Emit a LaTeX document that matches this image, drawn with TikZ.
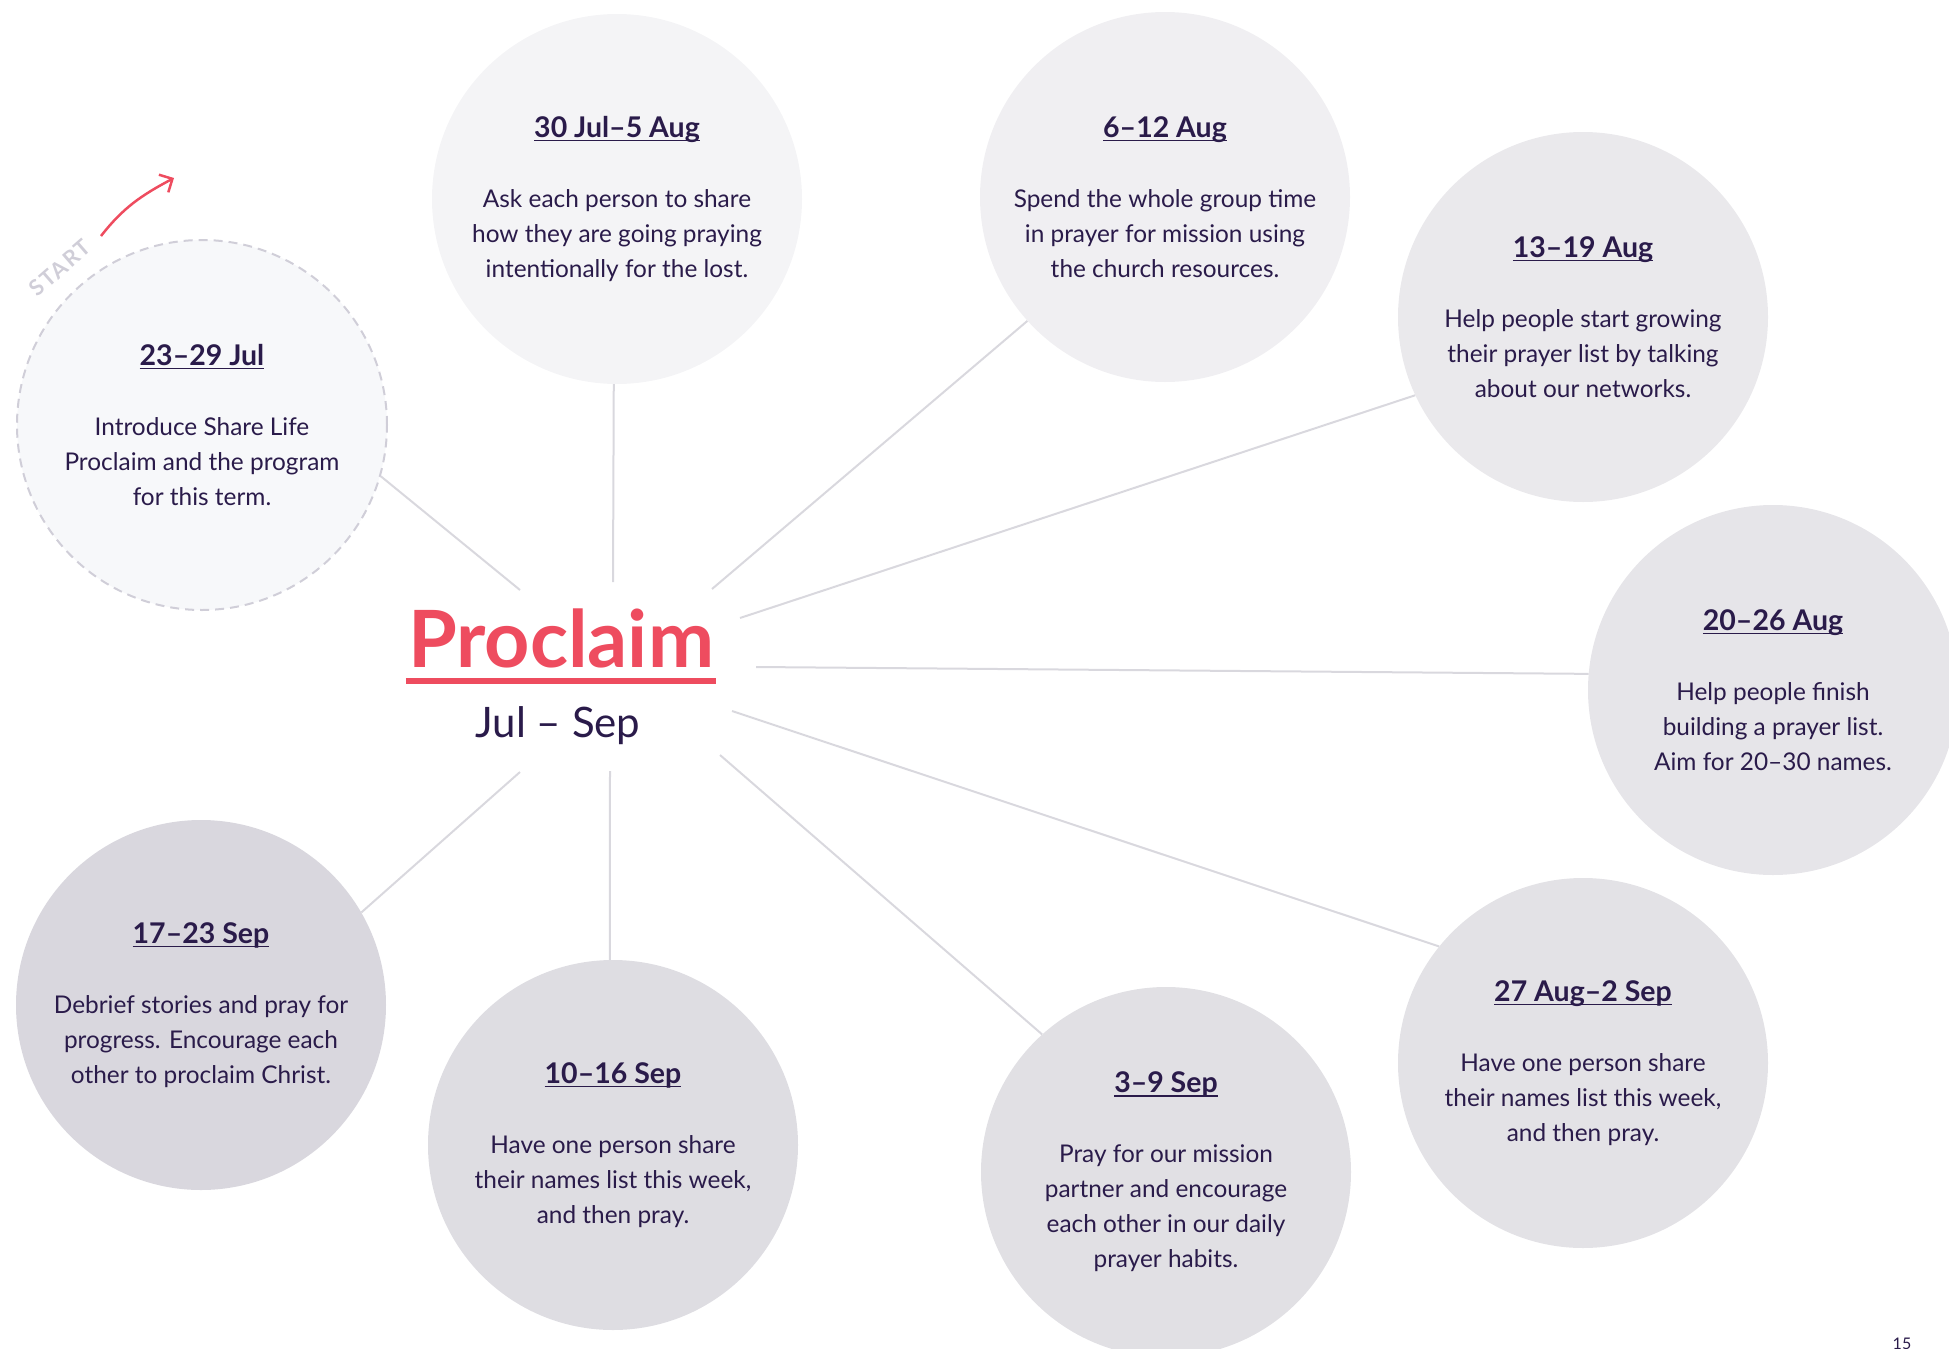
\documentclass[tikz,border=0pt]{standalone}
\usepackage{fontspec}
\setmainfont{Lato}
\usetikzlibrary{arrows.meta}
\definecolor{ink}{HTML}{2A1B4A}
\definecolor{redc}{HTML}{EE4C5F}
\definecolor{linec}{HTML}{D9D8DE}
\definecolor{startc}{HTML}{D0CED8}
\definecolor{fA}{HTML}{F7F8FA}
\definecolor{fB}{HTML}{F4F4F6}
\definecolor{fC}{HTML}{F0EFF2}
\definecolor{fD}{HTML}{EAE9EC}
\definecolor{fE}{HTML}{E6E5E9}
\definecolor{fF}{HTML}{E3E2E6}
\definecolor{fG}{HTML}{E1E0E4}
\definecolor{fH}{HTML}{DEDDE2}
\definecolor{fI}{HTML}{D9D7DE}
\newcommand\hul[1]{\setbox0\hbox{#1}\rlap{\rule[-4pt]{\wd0}{1.8pt}}\box0}
\newcommand\hd[1]{{\fontsize{28.5}{34}\selectfont\bfseries\hul{#1}}\\[35pt]}
\begin{document}
\begin{tikzpicture}[x=1pt,y=1pt,
  stage/.style={circle, minimum size=370pt, inner sep=0pt, align=center, text=ink,
    font=\fontsize{24.4}{35}\selectfont},
  link/.style={draw=linec, line width=2pt}]
\clip (0,0) rectangle (1949,-1349);
\useasboundingbox (0,0) rectangle (1949,-1349);

\node[stage, fill=fA, draw=startc, line width=2pt, dash pattern=on 9pt off 6pt] (c1) at (202,-425)
  {\hd{23–29 Jul}Introduce Share Life\\Proclaim and the program\\for this term.};
\node[stage, fill=fB] (c2) at (617,-199)
  {\hd{30 Jul–5 Aug}Ask each person to share\\how they are going praying\\intentionally for the lost.};
\node[stage, fill=fC] (c3) at (1165,-197)
  {\hd{6–12 Aug}Spend the whole group time\\in prayer for mission using\\the church resources.};
\node[stage, fill=fD] (c4) at (1583,-317)
  {\hd{13–19 Aug}Help people start growing\\their prayer list by talking\\about our networks.};
\node[stage, fill=fE] (c5) at (1773,-690)
  {\hd{20–26 Aug}Help people finish\\building a prayer list.\\Aim for 20–30 names.};
\node[stage, fill=fF] (c6) at (1583,-1063)
  {\hd{27 Aug–2 Sep}Have one person share\\their names list this week,\\and then pray.};
\node[stage, fill=fG] (c7) at (1166,-1172)
  {\hd{3–9 Sep}Pray for our mission\\partner and encourage\\each other in our daily\\prayer habits.};
\node[stage, fill=fH] (c8) at (613,-1145)
  {\hd{10–16 Sep}Have one person share\\their names list this week,\\and then pray.};
\node[stage, fill=fI] (c9) at (201,-1005)
  {\hd{17–23 Sep}Debrief stories and pray for\\progress. Encourage each\\other to proclaim Christ.};

\coordinate (a1) at (520,-590);
\coordinate (a2) at (613,-582);
\coordinate (a3) at (712,-589);
\coordinate (a4) at (740,-618);
\coordinate (a5) at (756,-667);
\coordinate (a6) at (732,-711);
\coordinate (a7) at (720,-755);
\coordinate (a8) at (610,-771);
\coordinate (a9) at (520,-772);

\draw[link] (a1) -- (c1.-16);
\draw[link] (a2) -- (c2.-91);
\draw[link] (a3) -- (c3.222);
\draw[link] (a4) -- (c4.205);
\draw[link] (a5) -- (c5.175);
\draw[link] (a6) -- (c6.141.5);
\draw[link] (a7) -- (c7.132);
\draw[link] (a8) -- (c8.91);
\draw[link] (a9) -- (c9.30);

\node[anchor=base, inner sep=0pt, text=redc, font=\fontsize{79}{84}\selectfont\bfseries] (title) at (561,-667) {Proclaim};
\draw[redc, line width=6pt] ([xshift=-2pt,yshift=-14pt]title.base west) -- ([xshift=2pt,yshift=-14pt]title.base east);
\node[anchor=base, inner sep=0pt, text=ink, font=\fontsize{42}{48}\selectfont] (sub) at (558,-737) {Jul – Sep};

\node[rotate=41, text=startc, font=\fontsize{22}{26}\selectfont\bfseries\addfontfeatures{LetterSpace=8}] (start) at (60,-268) {START};
\coordinate (s) at (101,-236);
\coordinate (e) at (174,-178);
\draw[redc, line width=2.5pt, -{Straight Barb[length=10pt,width=20pt]}] (s) to[out=52,in=208] (e);

\node[anchor=north, inner sep=0pt, text=ink, font=\fontsize{16}{18}\selectfont] (pg) at (1902,-1338) {15};
\end{tikzpicture}
\end{document}
